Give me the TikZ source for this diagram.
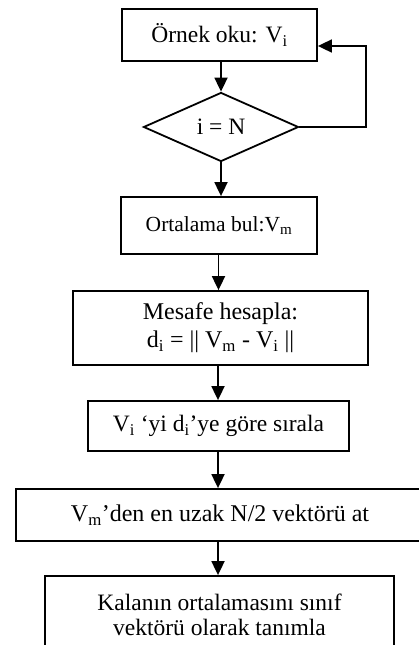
\documentclass[tikz,border=0pt]{standalone}
\usepackage{fontspec}
\setmainfont{Liberation Serif}
\usetikzlibrary{arrows.meta,shapes.geometric}
\tikzset{
  box/.style={draw, line width=1.8pt, rectangle, inner sep=0pt, align=center},
  dec/.style={draw, line width=1.8pt, diamond, inner sep=0pt, aspect=2.2},
  flow/.style={line width=1.8pt, -{Triangle[length=14pt,width=13pt]}},
  fA/.style={font=\fontsize{23.5}{25.5}\selectfont},
  fC/.style={font=\fontsize{24}{28}\selectfont},
  fB/.style={font=\fontsize{21.5}{25}\selectfont},
}
\begin{document}
\begin{tikzpicture}[x=1pt,y=-1pt]
\useasboundingbox (0,0) rectangle (419,645);
\clip (0,0) rectangle (419,645);
\node[box,fA,minimum width=195pt,minimum height=52pt] (b1) at (219.5,35) {Örnek oku: V\textsubscript{i}};
\node[dec,fA,minimum width=155pt,minimum height=69pt] (d1) at (221,127) {i = N};
\node[box,fB,minimum width=196pt,minimum height=57pt] (b2) at (219,225.5) {Ortalama bul:V\textsubscript{m}};
\node[box,fC,minimum width=295pt,minimum height=74pt] (b3) at (220.5,328) {Mesafe hesapla:\\ d\textsubscript{i} = || V\textsubscript{m} - V\textsubscript{i} ||};
\node[box,fA,minimum width=261pt,minimum height=50pt] (b4) at (218.5,426) {V\textsubscript{i} ‘yi d\textsubscript{i}’ye göre sırala};
\node[box,fC,minimum width=408pt,minimum height=52pt] (b5) at (220,515) {V\textsubscript{m}’den en uzak N/2 vektörü at};
\node[box,fA,minimum width=349pt,minimum height=78pt] (b6) at (219.5,615) {Kalanın ortalamasını sınıf\\ vektörü olarak tanımla};
\coordinate (c1) at (366,127);
\coordinate (c2) at (366,46);
\draw[flow] (b1.south -| 221,0) -- (d1.north);
\draw[flow] (d1.south) -- (b2.north -| 221,0);
\draw[flow] (b2.south -| 218.5,0) -- (b3.north -| 218.5,0);
\draw[flow] (b3.south -| 218,0) -- (b4.north -| 218,0);
\draw[flow] (b4.south -| 218,0) -- (b5.north -| 218,0);
\draw[flow] (b5.south -| 218,0) -- (b6.north -| 218,0);
\draw[flow] (d1.east) -- (c1) -- (c2) -- (c2 -| b1.east);
\end{tikzpicture}
\end{document}
